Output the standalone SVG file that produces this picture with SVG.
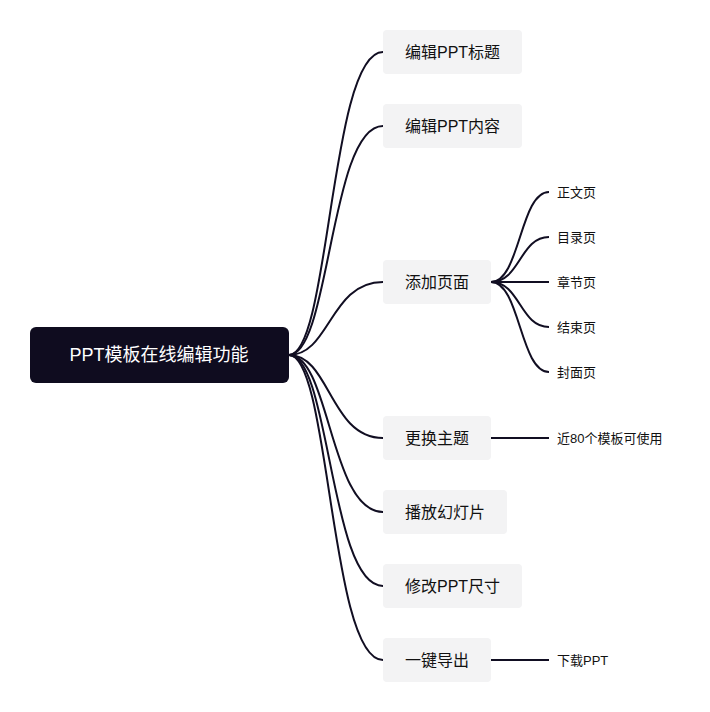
<svg xmlns="http://www.w3.org/2000/svg" width="710" height="712" viewBox="0 0 710 712">
<style>
.n rect{fill:#f3f3f4}
.n text{font-family:"Liberation Sans","Noto Sans CJK SC",sans-serif;font-size:16px;fill:#111;dominant-baseline:central}
.l text{font-family:"Liberation Sans","Noto Sans CJK SC",sans-serif;font-size:13px;fill:#111;dominant-baseline:central}
#c path{fill:none;stroke:#110e22;stroke-width:2}
</style>
<rect width="710" height="712" fill="#fff"/>
<g id="c">
<path d="M289 355 C330 355 330 52 383 52"/>
<path d="M289 355 C330 355 330 126 383 126"/>
<path d="M289 355 C330 355 330 282 383 282"/>
<path d="M289 355 C330 355 330 438 383 438"/>
<path d="M289 355 C330 355 330 512 383 512"/>
<path d="M289 355 C330 355 330 586 383 586"/>
<path d="M289 355 C330 355 330 660 383 660"/>
<path d="M491 282 C520 282 520 192 549 192"/>
<path d="M491 282 C520 282 520 237 549 237"/>
<path d="M491 282 L549 282"/>
<path d="M491 282 C520 282 520 327 549 327"/>
<path d="M491 282 C520 282 520 372 549 372"/>
<path d="M491 438 L549 438"/>
<path d="M491 660 L549 660"/>
</g>
<g id="root"><rect x="30" y="327" width="259" height="56" rx="6" fill="#0f0c1f"/><text x="159" y="355" text-anchor="middle" dominant-baseline="central" font-family="Liberation Sans,Noto Sans CJK SC,sans-serif" font-size="18" fill="#fff">PPT模板在线编辑功能</text></g>
<g id="n1" class="n"><rect x="383" y="30" width="139" height="44" rx="4"/><text x="405" y="52">编辑PPT标题</text></g>
<g id="n2" class="n"><rect x="383" y="104" width="139" height="44" rx="4"/><text x="405" y="126">编辑PPT内容</text></g>
<g id="n3" class="n"><rect x="383" y="260" width="108" height="44" rx="4"/><text x="405" y="282">添加页面</text></g>
<g id="n4" class="n"><rect x="383" y="416" width="108" height="44" rx="4"/><text x="405" y="438">更换主题</text></g>
<g id="n5" class="n"><rect x="383" y="490" width="124" height="44" rx="4"/><text x="405" y="512">播放幻灯片</text></g>
<g id="n6" class="n"><rect x="383" y="564" width="139" height="44" rx="4"/><text x="405" y="586">修改PPT尺寸</text></g>
<g id="n7" class="n"><rect x="383" y="638" width="108" height="44" rx="4"/><text x="405" y="660">一键导出</text></g>
<g id="l1" class="l"><text x="557" y="192">正文页</text></g>
<g id="l2" class="l"><text x="557" y="237">目录页</text></g>
<g id="l3" class="l"><text x="557" y="282">章节页</text></g>
<g id="l4" class="l"><text x="557" y="327">结束页</text></g>
<g id="l5" class="l"><text x="557" y="372">封面页</text></g>
<g id="l6" class="l"><text x="557" y="438">近80个模板可使用</text></g>
<g id="l7" class="l"><text x="557" y="660">下载PPT</text></g>
</svg>
